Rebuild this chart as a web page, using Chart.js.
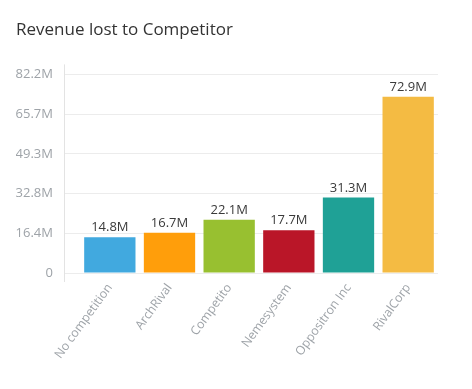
<!DOCTYPE html>
<html>
<head>
<meta charset="utf-8">
<script src="https://cdn.jsdelivr.net/npm/chart.js@4.4.1/dist/chart.umd.min.js"></script>
<style>
	html, body { margin: 0; padding: 0; background: #fff; }
	#wrap { width: 472px; height: 389px; position: relative; }
</style>
</head>
<body>
<div id="wrap"><canvas id="chart"></canvas></div>
<script>
const competitors = ['No competition', 'ArchRival', 'Competito', 'Nemesystem', 'Oppositron Inc', 'RivalCorp'];
const revenueLost = [14.8, 16.7, 22.1, 17.7, 31.3, 72.9];
const barColors = ['#41A9DF', '#FF9E0B', '#98C030', '#BA1628', '#1FA196', '#F4BB43'];
const yTickValues = [0, 16.44, 32.88, 49.32, 65.76, 82.2];
const yTickLabels = ['0', '16.4M', '32.8M', '49.3M', '65.7M', '82.2M'];

// value labels above the bars
const barLabels = {
	id: 'barLabels',
	afterDatasetsDraw( chart ){
		const ctx = chart.ctx;
		const meta = chart.getDatasetMeta( 0 );
		ctx.save();
		ctx.font = '13px "Open Sans"';
		ctx.fillStyle = '#3a3a3a';
		ctx.textAlign = 'center';
		ctx.textBaseline = 'bottom';
		meta.data.forEach( ( bar, i ) => {
			ctx.fillText( revenueLost[i].toFixed(1) + 'M', bar.x, bar.y - 3 );
		});
		ctx.restore();
	}
};

// the y axis line, left of the grid line stubs
const axisLine = {
	id: 'axisLine',
	beforeDatasetsDraw( chart ){
		const { ctx, chartArea } = chart;
		const x = chartArea.left - 16 + 0.5;
		ctx.save();
		ctx.strokeStyle = '#e3e3e3';
		ctx.lineWidth = 1;
		ctx.beginPath();
		ctx.moveTo( x, chartArea.top - 10 );
		ctx.lineTo( x, chartArea.bottom + 9 );
		ctx.stroke();
		ctx.restore();
	}
};

new Chart( document.getElementById( 'chart' ), {
	type: 'bar',
	data: {
		labels: competitors,
		datasets: [{
			data: revenueLost,
			backgroundColor: barColors,
			borderWidth: 0,
			barPercentage: 0.86,
			categoryPercentage: 1
		}]
	},
	options: {
		responsive: true,
		maintainAspectRatio: false,
		animation: false,
		layout: { padding: { left: 16, right: 34, top: 0, bottom: 27.4 } },
		plugins: {
			legend: { display: false },
			tooltip: { enabled: false },
			title: {
				display: true,
				text: 'Revenue lost to Competitor',
				align: 'start',
				color: '#333333',
				font: { family: '"Open Sans"', size: 17, weight: 'normal' },
				padding: { top: 20, bottom: 34 }
			}
		},
		scales: {
			x: {
				grid: { display: false },
				border: { display: false },
				afterFit: s => { s.paddingLeft = 0; },
				ticks: {
					color: '#9ea3a8',
					font: { family: '"Open Sans"', size: 12.3 },
					maxRotation: 54,
					minRotation: 54,
					padding: 0
				}
			},
			y: {
				min: 0,
				max: 82.2,
				afterBuildTicks: axis => { axis.ticks = yTickValues.map( v => ({ value: v }) ); },
				afterFit: axis => { axis.width = 64; },
				grid: { color: '#ececec', tickLength: 16, tickColor: '#ececec' },
				border: { display: false },
				ticks: {
					color: '#9ea3a8',
					font: { family: '"Open Sans"', size: 13 },
					padding: 11,
					callback: ( v, i ) => yTickLabels[i]
				}
			}
		}
	},
	plugins: [ barLabels, axisLine ]
});
</script>
</body>
</html>
